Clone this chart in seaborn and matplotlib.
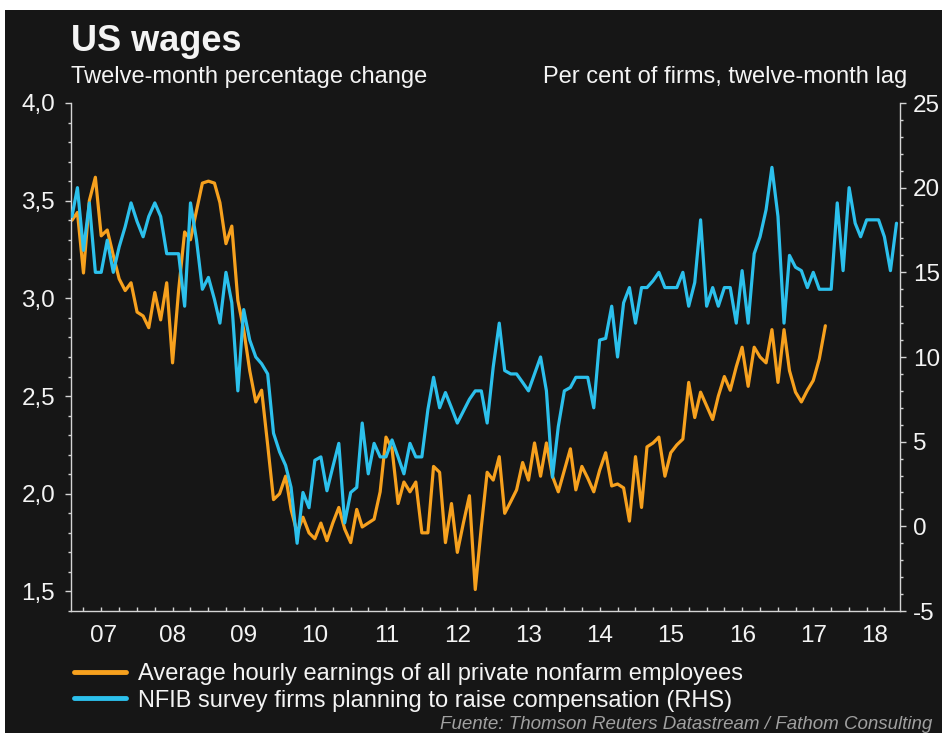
import numpy as np
import pandas as pd
import matplotlib
matplotlib.use("Agg")
import matplotlib.pyplot as plt
from matplotlib.ticker import FixedLocator, MultipleLocator, FuncFormatter
from matplotlib.patches import Rectangle
from matplotlib.lines import Line2D
import seaborn as sns

# Average hourly earnings, all private nonfarm employees, % y/y (monthly from Feb 2007)
earnings = [
    3.40, 3.44, 3.13, 3.50, 3.62, 3.32, 3.35, 3.22, 3.10, 3.04,
    3.08, 2.93, 2.91, 2.85, 3.03, 2.89, 3.08, 2.67, 3.04, 3.34,
    3.30, 3.45, 3.59, 3.60, 3.59, 3.49, 3.28, 3.37, 2.99, 2.84,
    2.63, 2.47, 2.53, 2.25, 1.97, 2.00, 2.09, 1.92, 1.80, 1.88,
    1.80, 1.77, 1.85, 1.76, 1.85, 1.93, 1.82, 1.75, 1.92, 1.83,
    1.85, 1.87, 2.01, 2.29, 2.23, 1.95, 2.06, 2.01, 2.06, 1.80,
    1.80, 2.14, 2.11, 1.75, 1.95, 1.70, 1.85, 1.99, 1.51, 1.83,
    2.11, 2.07, 2.19, 1.90, 1.96, 2.02, 2.16, 2.07, 2.26, 2.09,
    2.26, 2.09, 2.01, 2.12, 2.23, 2.02, 2.14, 2.08, 2.01, 2.12,
    2.21, 2.04, 2.05, 2.03, 1.86, 2.19, 1.93, 2.24, 2.26, 2.29,
    2.09, 2.21, 2.25, 2.28, 2.57, 2.39, 2.52, 2.45, 2.38, 2.50,
    2.60, 2.53, 2.65, 2.75, 2.55, 2.75, 2.70, 2.67, 2.84, 2.57,
    2.84, 2.63, 2.52, 2.47, 2.53, 2.58, 2.69, 2.86,
]
earnings_start = "2007-02-01"

# NFIB: per cent of firms planning to raise compensation, shifted 12 months ahead
nfib = [
    18.3, 20.0, 16.3, 19.1, 15.0, 15.0, 16.9, 15.0, 16.5, 17.7,
    19.1, 18.0, 17.1, 18.3, 19.1, 18.3, 16.1, 16.1, 16.1, 13.0,
    19.1, 16.9, 14.0, 14.7, 13.4, 12.0, 15.0, 13.2, 8.0, 12.8,
    11.0, 10.0, 9.6, 9.0, 5.5, 4.4, 3.6, 2.3, -1.0, 2.0,
    1.1, 3.9, 4.1, 2.1, 3.5, 4.9, 0.2, 2.0, 2.3, 6.1,
    3.1, 4.9, 4.1, 4.1, 5.1, 4.1, 3.1, 4.9, 4.1, 4.1,
    6.9, 8.8, 7.0, 7.9, 7.0, 6.1, 6.8, 7.5, 8.0, 8.0,
    6.1, 9.4, 12.0, 9.2, 9.0, 9.0, 8.5, 8.0, 9.0, 10.0,
    8.0, 2.9, 5.9, 8.0, 8.2, 8.8, 8.8, 8.8, 7.0, 11.0,
    11.1, 13.0, 10.0, 13.2, 14.1, 12.0, 14.1, 14.1, 14.5, 15.0,
    14.1, 14.1, 14.1, 15.0, 13.0, 14.4, 18.1, 13.0, 14.1, 13.0,
    14.1, 14.1, 12.0, 15.1, 12.0, 16.1, 17.1, 18.7, 21.2, 18.3,
    12.0, 16.0, 15.3, 15.1, 14.1, 15.0, 14.0, 14.0, 14.0, 19.1,
    15.1, 20.0, 17.9, 17.1, 18.1, 18.1, 18.1, 17.1, 15.1, 17.9,
]
nfib_start = "2007-02-01"

years = list(range(2007, 2019))
year_labels = ["07", "08", "09", "10", "11", "12", "13", "14", "15", "16", "17", "18"]

left_ticks = [1.5, 2.0, 2.5, 3.0, 3.5, 4.0]
right_ticks = [-5, 0, 5, 10, 15, 20, 25]

label_earn = "Average hourly earnings of all private nonfarm employees"
label_nfib = "NFIB survey firms planning to raise compensation (RHS)"

ORANGE = "#F7A11E"
BLUE = "#2CC0EC"
BG = "#161616"
AXIS = "#d4d4d4"
TEXT = "#f4f4f4"

sns.set_style("ticks")
plt.rcParams["font.family"] = ["Liberation Sans", "DejaVu Sans"]

W, H = 942, 733
fig = plt.figure(figsize=(W / 100, H / 100), dpi=100)
fig.patch.set_facecolor("white")
fig.add_artist(Rectangle((5 / W, 0), 1 - 5 / W, 1 - 10 / H, transform=fig.transFigure,
                         facecolor=BG, edgecolor="none", zorder=-5))

ax = fig.add_axes([71 / W, 1 - 611 / H, 829 / W, 508 / H])
ax.set_facecolor(BG)

df_e = pd.DataFrame({"date": pd.date_range(earnings_start, periods=len(earnings), freq="MS"),
                     "value": earnings})
df_n = pd.DataFrame({"date": pd.date_range(nfib_start, periods=len(nfib), freq="MS"),
                     "value": nfib})

sns.lineplot(data=df_e, x="date", y="value", ax=ax, color=ORANGE, linewidth=2.3)
ax2 = ax.twinx()
sns.lineplot(data=df_n, x="date", y="value", ax=ax2, color=BLUE, linewidth=2.3)

x0, x1 = pd.Timestamp("2007-01-27"), pd.Timestamp("2018-09-19")
ax.set_xlim(x0, x1)
ax.set_ylim(1.4, 4.0)
ax2.set_ylim(-5, 25)

for a in (ax, ax2):
    a.set_xlabel("")
    a.set_ylabel("")
    a.grid(False)
    for s in a.spines.values():
        s.set_color(AXIS)
        s.set_linewidth(1.0)
    a.spines["top"].set_visible(False)
ax.spines["right"].set_visible(False)
ax2.spines["left"].set_visible(False)
ax2.spines["bottom"].set_visible(False)

# Year labels centred on the visible part of each year
mids = []
for y in years:
    a_ = max(pd.Timestamp(f"{y}-01-01"), x0)
    b_ = min(pd.Timestamp(f"{y + 1}-01-01"), x1)
    mids.append(a_ + (b_ - a_) / 2)
ax.set_xticks(mids)
ax.set_xticklabels(year_labels)
quarters = pd.date_range("2007-04-01", "2018-07-01", freq="QS")
ax.set_xticks(quarters, minor=True)
ax.tick_params(axis="x", which="major", length=0, pad=10, labelsize=17.5, labelcolor=TEXT)
ax.tick_params(axis="x", which="minor", direction="in", length=3, width=1, color=AXIS)

ax.yaxis.set_major_locator(FixedLocator(left_ticks))
ax.yaxis.set_minor_locator(MultipleLocator(0.1))
ax.yaxis.set_major_formatter(FuncFormatter(lambda v, p: f"{v:.1f}".replace(".", ",")))
ax.tick_params(axis="y", which="major", direction="out", length=4.5, width=1, color=AXIS,
               pad=7, labelsize=17.5, labelcolor=TEXT)
ax.tick_params(axis="y", which="minor", direction="out", length=2, width=1, color=AXIS)

ax2.yaxis.set_major_locator(FixedLocator(right_ticks))
ax2.yaxis.set_minor_locator(MultipleLocator(1))
ax2.yaxis.set_major_formatter(FuncFormatter(lambda v, p: f"{int(v)}"))
ax2.tick_params(axis="y", which="major", direction="out", length=4.5, width=1, color=AXIS,
                pad=5, labelsize=17.5, labelcolor=TEXT)
ax2.tick_params(axis="y", which="minor", direction="out", length=2, width=1, color=AXIS)

fig.text(71 / W, 1 - 51 / H, "US wages", fontsize=26, fontweight="bold", color=TEXT,
         va="baseline", ha="left")
fig.text(71 / W, 1 - 83 / H, "Twelve-month percentage change", fontsize=17, color=TEXT,
         va="baseline", ha="left")
fig.text(907 / W, 1 - 83 / H, "Per cent of firms, twelve-month lag", fontsize=17, color=TEXT,
         va="baseline", ha="right")

handles = [Line2D([], [], color=ORANGE, linewidth=3.5), Line2D([], [], color=BLUE, linewidth=3.5)]
fig.legend(handles, [label_earn, label_nfib], loc="upper left",
           bbox_to_anchor=(74 / W, 1 - 663 / H), frameon=False, fontsize=17,
           handlelength=2.2, handletextpad=0.5, labelspacing=0.2, borderpad=0,
           borderaxespad=0, labelcolor=TEXT)

fig.text(440 / W, 1 - 729 / H, "Fuente: Thomson Reuters Datastream / Fathom Consulting",
         fontsize=13.5, style="italic", color="#a0a0a0", va="baseline", ha="left")

fig.savefig("out.png", dpi=100, facecolor=fig.get_facecolor())
